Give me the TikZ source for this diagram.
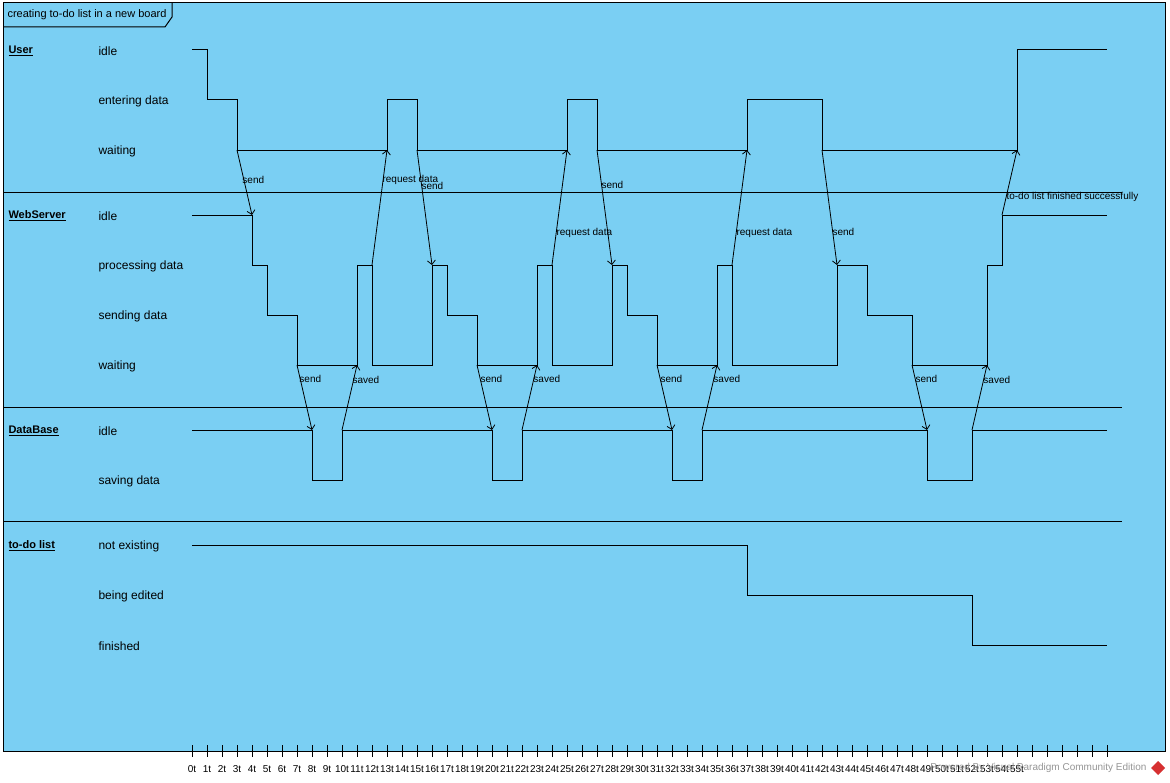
\documentclass[tikz,border=0pt]{standalone}
\usepackage{fontspec}
\setmainfont{Liberation Sans}
\usetikzlibrary{arrows.meta}
\definecolor{framebg}{RGB}{122,207,243}
\definecolor{markgray}{RGB}{150,150,150}
\definecolor{logored}{RGB}{214,48,49}

\begin{document}
\begin{tikzpicture}[x=1bp,y=-1bp,line width=1bp,
  lane/.style={anchor=west,inner sep=0pt,yshift=-1bp,font=\fontsize{11bp}{13bp}\selectfont\bfseries},
  state/.style={anchor=west,inner sep=0pt,yshift=-1bp,font=\fontsize{12bp}{14bp}\selectfont},
  msglbl/.style={anchor=west,inner sep=0pt,yshift=-1bp,font=\fontsize{10bp}{12bp}\selectfont},
  ticklbl/.style={inner sep=0pt,font=\fontsize{10bp}{12bp}\selectfont},
  msg/.style={line width=0.8bp,-{Straight Barb[length=4bp,width=8bp]}}]
  \fill[white] (0,0) rectangle (1170,783);
  \useasboundingbox (0,0) rectangle (1170,783);
  \draw[fill=framebg] (3,3) rectangle (1165,751);
  \draw (3,27) -- (165,27) -- (172,17) -- (172,3);
  \node[anchor=west,inner sep=0pt,font=\fontsize{11bp}{13bp}\selectfont] (title) at (7,15) {creating to-do list in a new board};
  \draw (3,192) -- (1122,192);
  \draw (3,407) -- (1122,407);
  \draw (3,521) -- (1122,521);

  \node[lane] (user) at (8,50) {\underline{User}};
  \node[lane] (server) at (8,215) {\underline{WebServer}};
  \node[lane] (base) at (8,430) {\underline{DataBase}};
  \node[lane] (todo) at (8,545) {\underline{to-do list}};

  \node[state] (userIdle) at (98,50) {idle};
  \node[state] (userEnter) at (98,100) {entering data};
  \node[state] (userWait) at (98,150) {waiting};
  \node[state] (serverIdle) at (98,215) {idle};
  \node[state] (serverProc) at (98,265) {processing data};
  \node[state] (serverSend) at (98,315) {sending data};
  \node[state] (serverWait) at (98,365) {waiting};
  \node[state] (baseIdle) at (98,430) {idle};
  \node[state] (baseSave) at (98,480) {saving data};
  \node[state] (todoNone) at (98,545) {not existing};
  \node[state] (todoEdit) at (98,595) {being edited};
  \node[state] (todoDone) at (98,645) {finished};

  \begin{scope}[xshift=192bp,x=15bp]
    \draw (0,50) -| (1,100) -| (3,150) -| (13,100) -| (15,150) -| (25,100) -| (27,150) -| (37,100)
      -| (42,150) -| (55,50) -- (61,50);
    \draw (0,215) -| (4,265) -| (5,315) -| (7,365) -| (11,265) -| (12,365) -| (16,265) -| (17,315)
      -| (19,365) -| (23,265) -| (24,365) -| (28,265) -| (29,315) -| (31,365) -| (35,265) -| (36,365)
      -| (43,265) -| (45,315) -| (48,365) -| (53,265) -| (54,215) -- (61,215);
    \draw (0,430) -| (8,480) -| (10,430) -| (20,480) -| (22,430) -| (32,480) -| (34,430) -| (49,480)
      -| (52,430) -- (61,430);
    \draw (0,545) -| (37,595) -| (52,645) -- (61,645);

    \foreach \from/\fy/\to/\ty/\lx/\ly/\txt [count=\k] in {
      3/150/4/215/3.33/179/send, 12/265/13/150/12.67/179/request data, 15/150/16/265/15.27/185/send,
      7/365/8/430/7.13/378/send, 10/430/11/365/10.67/379/saved, 19/365/20/430/19.2/378/send,
      22/430/23/365/22.73/378/saved, 24/265/25/150/24.27/232/request data, 27/150/28/265/27.27/184/send,
      31/365/32/430/31.2/378/send, 34/430/35/365/34.73/378/saved, 36/265/37/150/36.27/232/request data,
      42/150/43/265/42.67/231/send, 48/365/49/430/48.2/378/send, 52/430/53/365/52.73/379/saved,
      54/215/55/150/54.27/196/to-do list finished successfully} {
      \coordinate (ma\k) at (\from,\fy);
      \coordinate (mb\k) at (\to,\ty);
      \draw[msg] (ma\k) -- (mb\k);
      \node[msglbl] (ml\k) at (\lx,\ly) {\txt};
    }

    \foreach \i in {0,...,61}
      \draw (\i,745) -- (\i,757);
    \foreach \i in {0,...,55}
      \node[ticklbl] (t\i) at (\i,769) {\i{}t};
  \end{scope}

  \node[anchor=east,inner sep=0pt,text=markgray,font=\fontsize{10bp}{12bp}\selectfont] (mark) at (1147,768) {Powered By Visual Paradigm Community Edition};
  \fill[logored] (1158,761) -- (1165,768) -- (1158,775) -- (1151,768) -- cycle;
\end{tikzpicture}
\end{document}
